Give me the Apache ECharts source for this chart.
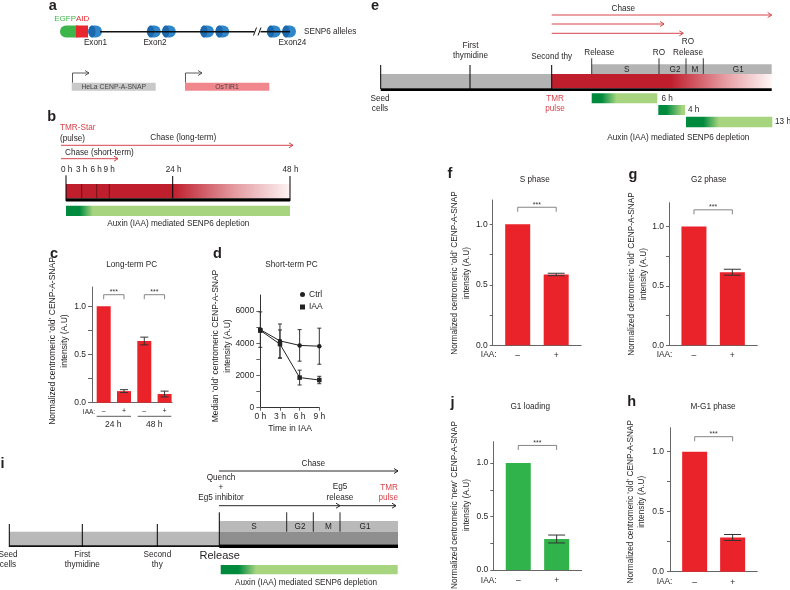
<!DOCTYPE html>
<html><head><meta charset="utf-8">
<script src="https://cdn.jsdelivr.net/npm/echarts@6/dist/echarts.min.js"></script>
<style>html,body{margin:0;padding:0;background:#fff}#chart{width:790px;height:590px}</style>
</head><body><div id="chart"></div>
<script>
// ---------------- data ----------------
const cGroups = ['24 h', '48 h'];
const cIAA = ['–', '+', '–', '+'];
const cValues = [1.0, 0.12, 0.64, 0.09];
const cErrors = [0, 0.015, 0.04, 0.03];
const cSig = [[0, 1, 1.12], [2, 3, 1.12]];

const dTimes = [0, 3, 6, 9];
const dTimeLabels = ['0 h', '3 h', '6 h', '9 h'];
const dCtrl = [4850, 4150, 3870, 3820];
const dCtrlErr = [1100, 1050, 980, 1120];
const dIAA = [4800, 3950, 1870, 1720];
const dIAAErr = [120, 880, 460, 230];
const dTicks = [0, 1000, 2000, 3000, 4000, 5000, 6000];
const dLabels = [0, 2000, 4000, 6000];

const iaaLabels = ['–', '+'];
const fValues = [1.0, 0.585], fErrors = [0, 0.01], fSig = [[0, 1, 1.14]];
const gValues = [1.0, 0.615], gErrors = [0, 0.025], gSig = [[0, 1, 1.14]];
const jValues = [1.0, 0.29], jErrors = [0, 0.037], jSig = [[0, 1, 1.165]];
const hValues = [1.0, 0.285], hErrors = [0, 0.025], hSig = [[0, 1, 1.125]];
const normTicks = [0, 0.25, 0.5, 0.75, 1.0];
const normLabels = [0, 0.5, 1.0];

// ---------------- helpers ----------------
const FF = '"Liberation Sans", Arial, Helvetica, sans-serif';
const AX = '#666';
const TXT = '#231f20';
const RED = '#ea2229';
const GREEN = '#2fb34a';
const DR = '#bf1e2d';
const ARED = '#d9434a';
const DG = '#008a3e', LG = '#a6d47f';
const S8 = 8.2;
const G = [];
function T(x, y, t, o) {
  o = o || {};
  const st = {text: t, fill: o.c || TXT, font: (o.b ? 'bold ' : '') + (o.s || S8) + 'px ' + FF,
    textAlign: o.a || 'center', textVerticalAlign: o.v || 'middle'};
  if (o.lh) st.lineHeight = o.lh;
  G.push({type: 'text', x: x, y: y, rotation: o.rot || 0, z: 20, silent: true, style: st});
}
function P(x, y, t) { T(x, y + 1.5, t, {b: 1, s: 14.5}); }
function L(x1, y1, x2, y2, c, w) {
  G.push({type: 'line', silent: true, z: 15, shape: {x1, y1, x2, y2}, style: {stroke: c || '#000', lineWidth: w || 1}});
}
function R(x, y, w, h, fill, r) {
  G.push({type: 'rect', silent: true, z: 10, shape: {x, y, width: w, height: h, r: r || 0}, style: {fill: fill}});
}
function grad(stops) {
  return new echarts.graphic.LinearGradient(0, 0, 1, 0, stops.map(s => ({offset: s[0], color: s[1]})));
}
function head(x, y, c, w) {
  G.push({type: 'polyline', silent: true, z: 15, shape: {points: [[x - 4, y - 2.5], [x, y], [x - 4, y + 2.5]]}, style: {stroke: c, fill: null, lineWidth: w || 1}});
}
function ARR(x1, x2, y, c, w) { L(x1, y, x2, y, c, w); head(x2, y, c, w); }

// ---------------- panel a ----------------
P(52.8, 4, 'a');
T(76, 19, 'EGFP', {c: '#3cb54a', a: 'right', s: 8});
T(76, 19, 'AID', {c: '#e8262d', a: 'left', s: 8});
L(100, 31.7, 254.5, 31.7, '#111', 1.5);
L(260.5, 31.7, 290, 31.7, '#111', 1.5);
L(253.5, 35.5, 256.5, 27.5, '#111', 1);
L(258, 35.5, 261, 27.5, '#111', 1);
R(60, 25.5, 18, 12, '#3cb54a', [6, 0, 0, 6]);
R(76, 25.5, 12, 12, '#e8262d', 0);
function exon(x) {
  R(x, 25.5, 14, 12, '#2f86cb', 6);
  G.push({type: 'ellipse', silent: true, z: 11, shape: {cx: x + 4, cy: 31.5, rx: 3.5, ry: 6}, style: {fill: '#1d69ad'}});
}
[88, 146.7, 161.8, 200, 215.2, 266.7, 282].forEach(exon);
T(95.5, 42.7, 'Exon1');
T(155, 42.7, 'Exon2');
T(292.5, 42.7, 'Exon24');
T(304, 31.7, 'SENP6 alleles', {a: 'left'});
R(71.7, 82.7, 84, 8, '#c9c9c9');
T(113.7, 86.9, 'HeLa CENP-A-SNAP', {s: 6.8, c: '#444'});
R(185, 82.7, 84.3, 8, '#f0878d');
T(227, 86.9, 'OsTIR1', {s: 6.8, c: '#444'});
G.push({type: 'polyline', silent: true, z: 15, shape: {points: [[72.5, 82.7], [72.5, 73], [89, 73]]}, style: {stroke: '#333', fill: null, lineWidth: 0.8}});
head(89, 73, '#333', 0.8);
G.push({type: 'polyline', silent: true, z: 15, shape: {points: [[185.5, 82.7], [185.5, 73], [202, 73]]}, style: {stroke: '#333', fill: null, lineWidth: 0.8}});
head(202, 73, '#333', 0.8);

// ---------------- panel b ----------------
P(51.7, 115.5, 'b');
T(60, 127.3, 'TMR-Star', {a: 'left', c: ARED});
T(60, 138.3, '(pulse)', {a: 'left'});
T(183.3, 137.7, 'Chase (long-term)');
ARR(61, 293, 145.3, ARED, 1);
T(65, 152.7, 'Chase (short-term)', {a: 'left'});
ARR(61, 118, 158.7, ARED, 1);
[[66.7, '0 h'], [81.7, '3 h'], [96.2, '6 h'], [109.2, '9 h'], [173.7, '24 h'], [290.5, '48 h']].forEach(p => T(p[0], 169.3, p[1]));
R(66, 184, 224, 14.3, grad([[0, DR], [0.476, DR], [0.75, '#e39aa0'], [1, '#fdf3f3']]));
R(66, 198.3, 224, 3.2, '#000');
L(66, 175.3, 66, 201, '#000', 1);
L(81.7, 184, 81.7, 198.3, '#3a0a0a', 0.6);
L(96.7, 184, 96.7, 198.3, '#3a0a0a', 0.6);
L(109.3, 184, 109.3, 198.3, '#3a0a0a', 0.6);
L(172.7, 176, 172.7, 198.3, '#000', 1);
L(290, 176, 290, 201, '#000', 1);
R(66, 205.7, 224, 10.3, grad([[0, DG], [0.06, DG], [0.12, LG], [1, LG]]));
T(178.3, 224, 'Auxin (IAA) mediated SENP6 depletion');

// ---------------- panel c/d labels ----------------
P(54, 252.5, 'c');
P(217.5, 252.5, 'd');
T(131.7, 264.5, 'Long-term PC');
T(291.5, 264.5, 'Short-term PC');
T(59, 341, 'Normalized centromeric ‘old’ CENP-A-SNAP\nintensity (A.U)', {rot: Math.PI / 2, s: 8.5, lh: 12});
T(222, 346, 'Median ‘old’ centromeric CENP-A-SNAP\nintensity (A.U)', {rot: Math.PI / 2, s: 8.5, lh: 12});
T(89, 412, 'IAA:', {s: 6.5});
L(96.7, 416.3, 131, 416.3, '#333', 0.8);
L(137.7, 416.3, 171.3, 416.3, '#333', 0.8);
T(113.3, 424.3, cGroups[0], {s: 8.5});
T(154.3, 424.3, cGroups[1], {s: 8.5});
T(290, 429, 'Time in IAA', {s: 8.5});

// ---------------- panel e ----------------
P(375, 4, 'e');
T(623.3, 8.3, 'Chase');
ARR(551.7, 771.7, 15, ARED, 1);
ARR(551.7, 664, 24, ARED, 1);
ARR(551.7, 683.3, 33.3, ARED, 1);
T(470.5, 51, 'First\nthymidine', {lh: 10.3});
T(551.7, 56.7, 'Second thy');
T(599.3, 52.3, 'Release');
T(659, 52.3, 'RO');
T(688, 47, 'RO\nRelease', {lh: 10.6});
R(591.7, 64.3, 180, 9.7, '#b3b3b3');
T(626.7, 69.3, 'S');
T(675, 69.3, 'G2');
T(695, 69.3, 'M');
T(738.3, 69.3, 'G1');
R(380.7, 74, 171, 14.3, '#b3b3b3');
R(551.7, 74, 220, 14.3, grad([[0, DR], [0.54, DR], [0.8, '#e7a2a7'], [1, '#fdf5f5']]));
R(380.7, 88.3, 391, 2.8, '#000');
L(380.7, 65, 380.7, 89, '#000', 1);
L(470, 65, 470, 89, '#000', 1);
L(551.7, 65, 551.7, 89, '#000', 1);
[591.7, 659, 686, 703.3].forEach(x => L(x, 58.3, x, 74, '#222', 0.9));
T(380, 104, 'Seed\ncells', {lh: 10.3});
T(555, 104, 'TMR\npulse', {lh: 10.3, c: ARED});
R(591.7, 93.3, 65.6, 10, grad([[0, DG], [0.15, DG], [0.38, LG], [1, LG]]));
T(661.5, 98.3, '6 h', {a: 'left'});
R(658.3, 105, 26.7, 10, grad([[0, DG], [0.3, DG], [0.9, LG], [1, LG]]));
T(688, 110, '4 h', {a: 'left'});
R(686, 116.7, 86.3, 10.6, grad([[0, DG], [0.2, DG], [0.38, LG], [1, LG]]));
T(775, 122, '13 h', {a: 'left'});
T(678.3, 138, 'Auxin (IAA) mediated SENP6 depletion');

// ---------------- panel i ----------------
P(2.5, 462, 'i');
T(313.3, 464, 'Chase');
ARR(219, 398, 471, '#111', 0.9);
T(221, 487.5, 'Quench\n+\nEg5 inhibitor', {lh: 10.2});
L(219, 505.7, 396, 505.7, '#111', 0.9);
head(340, 505.7, '#111', 0.9);
head(396, 505.7, '#111', 0.9);
T(340, 492, 'Eg5\nrelease', {lh: 10.6});
T(398, 492.5, 'TMR\npulse', {lh: 10, a: 'right', c: ARED});
R(9.3, 531.7, 210, 14, '#b9b9b9');
R(219.3, 521, 178.7, 10.7, '#b9b9b9');
R(219.3, 531.7, 178.7, 13, '#8f8f8f');
R(9.3, 545.2, 210, 1.8, '#111');
R(219.3, 544.5, 178.7, 3.4, '#000');
[9.3, 82.3, 157.3].forEach(x => L(x, 524, x, 547, '#000', 1));
L(219.3, 512.3, 219.3, 547, '#000', 1);
[286.7, 313.3, 340].forEach(x => L(x, 512.3, x, 531.7, '#111', 0.9));
T(254, 526.5, 'S');
T(300, 526.5, 'G2');
T(328.3, 526.5, 'M');
T(365, 526.5, 'G1');
T(8, 560, 'Seed\ncells', {lh: 10.3});
T(82.3, 560, 'First\nthymidine', {lh: 10.3});
T(157.3, 560, 'Second\nthy', {lh: 10.3});
T(219.7, 556, 'Release', {s: 11});
R(220.7, 565, 177, 9.3, grad([[0, DG], [0.1, DG], [0.2, LG], [1, LG]]));
T(306, 582.3, 'Auxin (IAA) mediated SENP6 depletion');

// ---------------- panels f g j h text ----------------
P(450, 172.5, 'f');
P(633, 173, 'g');
P(452.5, 401.5, 'j');
P(631.7, 400, 'h');
T(534.7, 180, 'S phase');
T(708.8, 180, 'G2 phase');
T(530.3, 406.7, 'G1 loading');
T(713, 406.7, 'M-G1 phase');
T(460.8, 273, 'Normalized centromeric ‘old’ CENP-A-SNAP\nintensity (A.U)', {rot: Math.PI / 2, s: 8.3, lh: 11.5});
T(637.5, 274, 'Normalized centromeric ‘old’ CENP-A-SNAP\nintensity (A.U)', {rot: Math.PI / 2, s: 8.3, lh: 11.5});
T(460.7, 505, 'Normalized centromeric ‘new’ CENP-A-SNAP\nintensity (A.U)', {rot: Math.PI / 2, s: 8.3, lh: 12});
T(636.2, 501.7, 'Normalized centromeric ‘old’ CENP-A-SNAP\nintensity (A.U)', {rot: Math.PI / 2, s: 8.3, lh: 11});
T(488.7, 355, 'IAA:', {s: 8.3});
T(664.5, 355, 'IAA:', {s: 8.3});
T(488.7, 580.7, 'IAA:', {s: 8.3});
T(664.5, 581.7, 'IAA:', {s: 8.3});

// ---------------- chart series ----------------
function errRender(capW) {
  return function (params, api) {
    const x = api.value(0), v = api.value(1), e = api.value(2);
    const top = api.coord([x, v + e]), bot = api.coord([x, v - e]);
    const st = {stroke: '#333', lineWidth: 1};
    return {type: 'group', children: [
      {type: 'line', shape: {x1: top[0], y1: top[1], x2: bot[0], y2: bot[1]}, style: st},
      {type: 'line', shape: {x1: top[0] - capW / 2, y1: top[1], x2: top[0] + capW / 2, y2: top[1]}, style: st},
      {type: 'line', shape: {x1: bot[0] - capW / 2, y1: bot[1], x2: bot[0] + capW / 2, y2: bot[1]}, style: st}
    ]};
  };
}
function sigRender(params, api) {
  const p0 = api.coord([api.value(0), api.value(2)]);
  const p1 = api.coord([api.value(1), api.value(2)]);
  return {type: 'group', children: [
    {type: 'polyline', shape: {points: [[p0[0], p0[1] + 4.5], [p0[0], p0[1]], [p1[0], p1[1]], [p1[0], p1[1] + 4.5]]},
      style: {stroke: '#777', fill: null, lineWidth: 0.9}},
    {type: 'text', x: (p0[0] + p1[0]) / 2, y: p0[1] - 2.5,
      style: {text: '***', font: '7px ' + FF, textAlign: 'center', textVerticalAlign: 'middle', fill: '#333'}}
  ]};
}

const grids = [
  {left: 92, top: 287, width: 80, height: 115.7},      // c
  {left: 260.3, top: 295, width: 59, height: 112.7},   // d
  {left: 492.7, top: 200, width: 88.5, height: 145.3}, // f
  {left: 669, top: 202.7, width: 88.3, height: 142.6}, // g
  {left: 493.3, top: 441.7, width: 88.3, height: 128.3}, // j
  {left: 670, top: 427.7, width: 87.3, height: 144}    // h
];

function yAx(gi, max, ticks, labels, fmt, margin, tl) {
  return {gridIndex: gi, type: 'value', min: 0, max: max, splitLine: {show: false},
    axisLine: {show: true, onZero: false, lineStyle: {color: AX, width: 1}},
    axisTick: {show: true, length: tl, lineStyle: {color: AX}, customValues: ticks},
    axisLabel: {customValues: labels, formatter: fmt, margin: margin, fontSize: 8.5, color: TXT, fontFamily: FF}};
}
function xAx(gi, min, max, vals, labels, margin, tick) {
  return {gridIndex: gi, type: 'value', min: min, max: max, splitLine: {show: false},
    axisLine: {show: true, onZero: false, lineStyle: {color: AX, width: 1}},
    axisTick: {show: !!tick, length: 3, lineStyle: {color: AX}, customValues: vals},
    axisLabel: {customValues: vals, formatter: v => labels[vals.indexOf(v)], margin: margin, fontSize: 8.5, color: TXT, fontFamily: FF}};
}
const fmt1 = v => v.toFixed(1);
const xAxes = [
  xAx(0, -0.576, 3.365, [0, 1, 2, 3], cIAA, 5, false),
  xAx(1, 0, 9, dTimes, dTimeLabels, 4, true),
  xAx(2, -0.65, 1.65, [0, 1], iaaLabels, 6, false),
  xAx(3, -0.65, 1.65, [0, 1], iaaLabels, 6, false),
  xAx(4, -0.65, 1.65, [0, 1], iaaLabels, 6, false),
  xAx(5, -0.65, 1.65, [0, 1], iaaLabels, 6, false)
];
const yAxes = [
  yAx(0, 1.2, normTicks, normLabels, fmt1, 6, 4),
  yAx(1, 7000, dTicks, dLabels, v => String(v), 6, 4),
  yAx(2, 1.2, normTicks, normLabels, fmt1, 5, 3),
  yAx(3, 1.2, normTicks, normLabels, fmt1, 5, 3),
  yAx(4, 1.2, normTicks, normLabels, fmt1, 5, 3),
  yAx(5, 1.2, normTicks, normLabels, fmt1, 6, 3)
];
yAxes[1].axisLine.lineStyle.color = '#333';
xAxes[1].axisLine.lineStyle.color = '#333';
xAxes[0].axisLabel.fontSize = 7;

const series = [];
function barPanel(gi, vals, errs, sig, color, barW, capW) {
  series.push({type: 'bar', xAxisIndex: gi, yAxisIndex: gi, barWidth: barW, silent: true,
    data: vals.map((v, i) => [i, v]), itemStyle: {color: color}});
  series.push({type: 'custom', xAxisIndex: gi, yAxisIndex: gi, silent: true, z: 5,
    renderItem: errRender(capW), encode: {x: 0, y: 1},
    data: vals.map((v, i) => [i, v, errs[i]]).filter(d => d[2] > 0)});
  series.push({type: 'custom', xAxisIndex: gi, yAxisIndex: gi, silent: true, z: 5,
    renderItem: sigRender, encode: {x: [0, 1], y: 2}, data: sig});
}
barPanel(0, cValues, cErrors, cSig, RED, 14, 8);
barPanel(2, fValues, fErrors, fSig, RED, 25, 17);
barPanel(3, gValues, gErrors, gSig, RED, 25, 17);
barPanel(4, jValues, jErrors, jSig, GREEN, 25, 17);
barPanel(5, hValues, hErrors, hSig, RED, 25, 17);

series.push({name: 'Ctrl', type: 'line', xAxisIndex: 1, yAxisIndex: 1, symbol: 'circle', symbolSize: 4.5,
  data: dTimes.map((t, i) => [t, dCtrl[i]]), lineStyle: {color: '#222', width: 1}, itemStyle: {color: '#222'}, z: 4});
series.push({name: 'IAA', type: 'line', xAxisIndex: 1, yAxisIndex: 1, symbol: 'rect', symbolSize: 4.5,
  data: dTimes.map((t, i) => [t, dIAA[i]]), lineStyle: {color: '#222', width: 1}, itemStyle: {color: '#222'}, z: 4});
series.push({type: 'custom', xAxisIndex: 1, yAxisIndex: 1, silent: true, z: 3, renderItem: errRender(4), encode: {x: 0, y: 1},
  data: dTimes.map((t, i) => [t, dCtrl[i], dCtrlErr[i]]).concat(dTimes.map((t, i) => [t, dIAA[i], dIAAErr[i]]))});

const chart = echarts.init(document.getElementById('chart'), null, {renderer: 'canvas'});
chart.setOption({
  animation: false,
  backgroundColor: '#fff',
  textStyle: {fontFamily: FF},
  grid: grids,
  xAxis: xAxes,
  yAxis: yAxes,
  legend: {data: [{name: 'Ctrl', icon: 'circle'}, {name: 'IAA', icon: 'rect'}], orient: 'vertical',
    left: 300, top: 290, itemWidth: 5, itemHeight: 5, itemGap: 3.5, padding: 0,
    textStyle: {fontSize: 8.5, color: TXT, fontFamily: FF, padding: [0, 0, 0, -1]}, selectedMode: false},
  series: series,
  graphic: G
});
</script></body></html>
